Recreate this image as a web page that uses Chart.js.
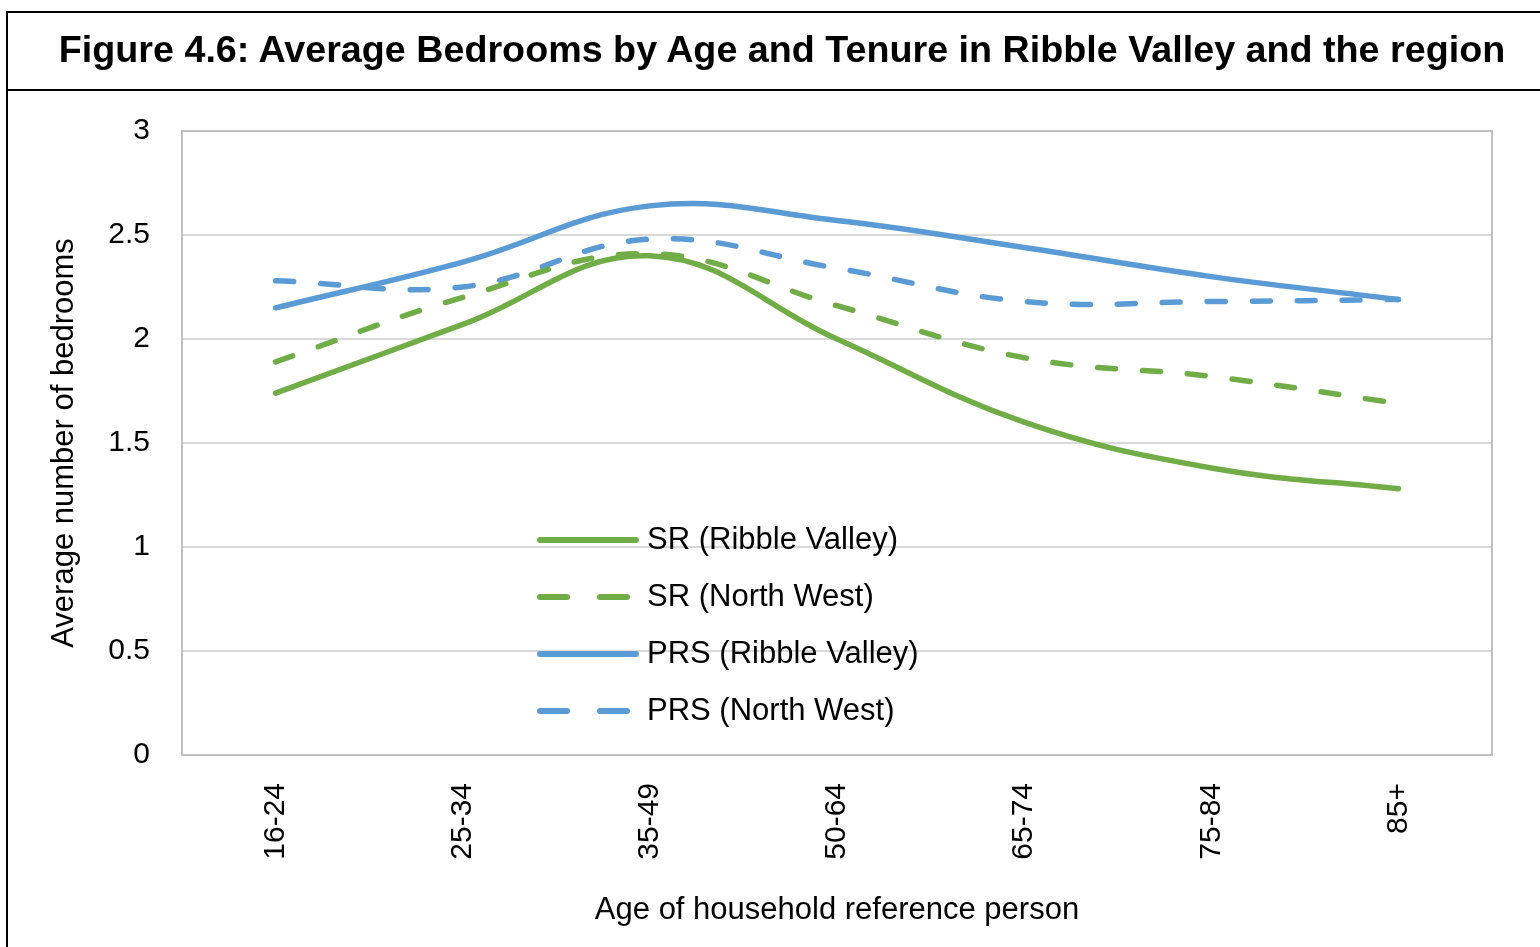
<!DOCTYPE html>
<html>
<head>
<meta charset="utf-8">
<script src="https://cdn.jsdelivr.net/npm/chart.js@4.4.1/dist/chart.umd.min.js"></script>
<style>
  html, body { margin: 0; padding: 0; background: #fff; }
  #wrap { position: relative; width: 1540px; height: 947px; overflow: hidden; }
  #chart { position: absolute; left: 0; top: 0; }
  .frame-left { position: absolute; left: 6px; top: 11px; width: 2px; height: 940px; background: #000; }
  .frame-top { position: absolute; left: 6px; top: 11px; width: 1540px; height: 2px; background: #000; }
  .frame-title { position: absolute; left: 6px; top: 89px; width: 1540px; height: 2px; background: #000; }
  #title {
    position: absolute; left: 24px; top: 11px; width: 1516px; height: 76px;
    font-family: "Liberation Sans", Arial, sans-serif; font-weight: bold; font-size: 37.7px;
    display: flex; align-items: center; justify-content: center; color: #000;
  }
</style>
</head>
<body>
<div id="wrap">
  <canvas id="chart" width="1540" height="947"></canvas>
  <div class="frame-left"></div>
  <div class="frame-top"></div>
  <div class="frame-title"></div>
  <div id="title">Figure 4.6: Average Bedrooms by Age and Tenure in Ribble Valley and the region</div>
</div>
<script>
// Data
const ageGroups = ['16-24', '25-34', '35-49', '50-64', '65-74', '75-84', '85+'];
const srRibble  = [1.74, 2.07, 2.40, 2.00, 1.60, 1.38, 1.28];
const srNW      = [1.89, 2.20, 2.41, 2.16, 1.91, 1.82, 1.69];
const prsRibble = [2.15, 2.37, 2.64, 2.57, 2.44, 2.30, 2.19];
const prsNW     = [2.28, 2.25, 2.48, 2.34, 2.18, 2.18, 2.19];

const green = '#70ad47';
const blue = '#5b9bd5';
const font = '"Liberation Sans Narrow", "Arial Narrow", "Liberation Sans", sans-serif';

function line(label, data, color, dashed) {
    return {
        label: label,
        data: data,
        borderColor: color,
        backgroundColor: color,
        borderWidth: 5.5,
        borderDash: dashed ? [18, 27] : [],
        borderCapStyle: 'round',
        borderJoinStyle: 'round',
        pointRadius: 0,
        pointHoverRadius: 0,
        tension: 0.4,
        fill: false
    };
}

// plot frame + legend drawn inside the plot
const framePlugin = {
    id: 'frame',
    beforeDatasetsDraw(chart) {
        const { ctx, chartArea: a } = chart;
        ctx.save();
        ctx.strokeStyle = '#bfbfbf';
        ctx.lineWidth = 2;
        ctx.strokeRect(a.left, a.top, a.right - a.left, a.bottom - a.top);
        ctx.restore();
    },
    afterDraw(chart) {
        const { ctx } = chart;
        const x0 = 540, y0 = 540, rowH = 57;
        ctx.save();
        ctx.font = '31px ' + font;
        ctx.textBaseline = 'middle';
        chart.data.datasets.forEach((ds, i) => {
            const y = y0 + i * rowH;
            ctx.strokeStyle = ds.borderColor;
            ctx.lineWidth = 6;
            ctx.lineCap = 'round';
            ctx.setLineDash(ds.borderDash.length ? [27, 33] : []);
            ctx.beginPath();
            ctx.moveTo(x0, y);
            ctx.lineTo(x0 + 96, y);
            ctx.stroke();
            ctx.setLineDash([]);
            ctx.fillStyle = '#000';
            ctx.fillText(ds.label, x0 + 107, y);
        });
        ctx.restore();
    }
};

new Chart(document.getElementById('chart'), {
    type: 'line',
    data: {
        labels: ageGroups,
        datasets: [
            line('SR (Ribble Valley)', srRibble, green, false),
            line('SR (North West)', srNW, green, true),
            line('PRS (Ribble Valley)', prsRibble, blue, false),
            line('PRS (North West)', prsNW, blue, true)
        ]
    },
    options: {
        responsive: false,
        animation: false,
        layout: { padding: { top: 131, right: 48, left: 0, bottom: 0 } },
        plugins: {
            legend: { display: false },
            tooltip: { enabled: false }
        },
        scales: {
            x: {
                offset: true,
                afterFit(scale) { scale.height = 192; },
                grid: { display: false, drawTicks: false },
                border: { display: true, color: '#bfbfbf', width: 2 },
                ticks: {
                    color: '#000',
                    font: { family: font, size: 30 },
                    minRotation: 90,
                    maxRotation: 90,
                    padding: 28
                },
                title: {
                    display: true,
                    text: 'Age of household reference person',
                    color: '#000',
                    font: { family: font, size: 31 },
                    padding: { top: 0, bottom: 18 }
                }
            },
            y: {
                min: 0,
                max: 3,
                afterFit(scale) { scale.width = 182; },
                grid: { color: '#d9d9d9', lineWidth: 2, drawTicks: false },
                border: { display: true, color: '#bfbfbf', width: 2 },
                ticks: {
                    stepSize: 0.5,
                    color: '#000',
                    font: { family: font, size: 30 },
                    padding: 32,
                    callback: v => String(v)
                },
                title: {
                    display: true,
                    text: 'Average number of bedrooms',
                    color: '#000',
                    font: { family: font, size: 31 },
                    padding: { top: 46, bottom: 0 }
                }
            }
        }
    },
    plugins: [framePlugin]
});
</script>
</body>
</html>
